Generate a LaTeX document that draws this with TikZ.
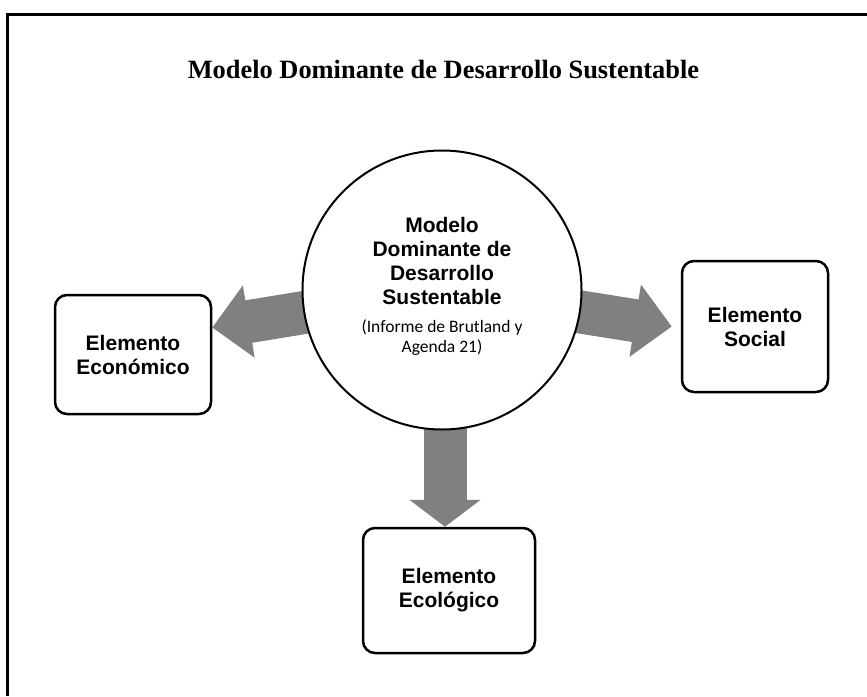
\documentclass[tikz,border=0pt]{standalone}
\usepackage{fontspec}
\setmainfont{Liberation Serif}
\newfontfamily\boxfont{Liberation Sans}
\newfontfamily\notefont{Carlito}
\usepackage{tikz}
\usetikzlibrary{arrows.meta, backgrounds, positioning}
\tikzstyle{elemento} = [rectangle, rounded corners = 12pt, draw = black,
  line width = 2.5pt, fill = white, align = center,
  font = \boxfont\bfseries\fontsize{21}{24}\selectfont]
\tikzstyle{modelo} = [
  circle, draw = black, line width = 2pt, fill = white,
  minimum size = 279pt, inner sep = 0
]
\tikzstyle{modelotext} = [align = center,
  font = \boxfont\bfseries\fontsize{21}{23.7}\selectfont]
\tikzstyle{nota} = [align = center, font = \notefont\fontsize{17.5}{20}\selectfont]
\tikzstyle{flecha} = [draw = black!50, line width = 43pt,
  -{Triangle[width = 71pt, length = 37pt]}]

\begin{document}
\begin{tikzpicture}[x = 1pt, y = -1pt]
    \useasboundingbox (0, 0) rectangle (867, 696);
    % marco
    \draw [line width = 3pt] (7.5, 696) -- (7.5, 14.5) -- (867, 14.5);
    % titulo
    \node [anchor = base, font = \bfseries\fontsize{26.4}{30}\selectfont] (titulo)
      at (443.5, 78) {Modelo Dominante de Desarrollo Sustentable};
    % modelo
    \node [modelo] (mdds) at (442, 290) {};
    \node [modelotext] (mdds-text) at (442, 261)
      {Modelo\\Dominante de\\Desarrollo\\Sustentable};
    \node [nota] (mdds-nota) at (442, 338) {(Informe de Brutland y\\Agenda 21)};
    % elementos
    \node [elemento, minimum width = 156, minimum height = 119] (econ)
      at (133, 354.5) {Elemento\\Económico};
    \node [elemento, minimum width = 146, minimum height = 131] (social)
      at (755, 326.5) {Elemento\\Social};
    \node [elemento, minimum width = 172, minimum height = 125] (ecol)
      at (449, 590.5) {Elemento\\Ecológico};
    \coordinate (ecol-in) at ([xshift = -4pt] ecol.north);

    \begin{scope}[on background layer]
      \draw [flecha] (mdds.center) -- ([yshift = 27pt] econ.east);
      \draw [flecha] (mdds.center) -- ([xshift = -9pt] social.west);
      \draw [flecha, -{Triangle[width = 70pt, length = 27pt]}]
      (mdds.center -| ecol-in) -- (ecol-in);
    \end{scope}
  \end{tikzpicture}
\end{document}
